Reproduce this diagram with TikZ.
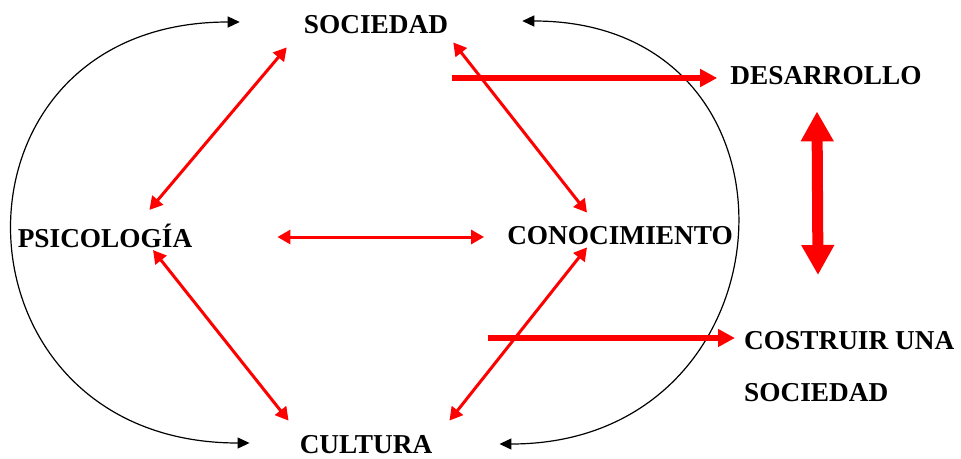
\documentclass[tikz,border=0pt]{standalone}
\usepackage{fontspec}
\setmainfont{Liberation Serif}
\usetikzlibrary{arrows.meta}

\tikzset{
    lbl/.style={inner sep=0pt, font=\bfseries\fontsize{27.3}{52}\selectfont},
    thinred/.style={red, line width=3pt, {Triangle[length=13pt,width=14pt]}-{Triangle[length=13pt,width=14pt]}},
    thickred/.style={red, line width=6pt, -{Triangle[length=17pt,width=17pt]}},
    bigred/.style={red, line width=11pt, {Triangle[length=30pt,width=31pt]}-{Triangle[length=30pt,width=31pt]}},
    blackcurve/.style={black, line width=1.2pt, {Triangle[length=12pt,width=11pt]}-{Triangle[length=12pt,width=11pt]}}
}

\begin{document}
\begin{tikzpicture}[x=1pt,y=-1pt]

    \useasboundingbox (0,0) rectangle (961,458);

    % labels
    \node[lbl] (soc) at (376,25) {SOCIEDAD};
    \node[lbl] (psi) at (105,236) {PSICOLOGÍA};
    \node[lbl] (con) at (620,236) {CONOCIMIENTO};
    \node[lbl] (cul) at (366,445) {CULTURA};
    \node[lbl] (des) at (826,76) {DESARROLLO};
    \node[lbl, anchor=north west, align=left] (cos) at (744,331) {COSTRUIR UNA\\SOCIEDAD};

    \coordinate (t1) at (452,78);
    \coordinate (t2) at (488,338);
    \coordinate (v1) at (818,275);

    % black loops
    \draw[blackcurve] ([xshift=-64,yshift=3]soc.west) to[out=180,in=180,looseness=1.87] ([xshift=-50,yshift=2]cul.west);
    \draw[blackcurve] ([xshift=74,yshift=4]soc.east) to[out=0,in=0,looseness=1.81] ([xshift=67,yshift=1]cul.east);

    % red links
    \draw[thinred] ([xshift=-17,yshift=-13]soc.south west) to ([xshift=-43,yshift=14]psi.north east);
    \draw[thinred] ([xshift=5,yshift=-8]soc.south east) to ([xshift=-33,yshift=14]con.north);
    \draw[thinred] ([xshift=85,yshift=-1]psi.east) to ([xshift=-23,yshift=-1]con.west);
    \draw[thinred] ([xshift=48,yshift=-2]psi.south) to ([xshift=-11,yshift=15]cul.north west);
    \draw[thinred] ([xshift=-33,yshift=-2]con.south) to ([xshift=17,yshift=15]cul.north east);

    \draw[thickred] (t1) to ([xshift=-13,yshift=-2]des.west);
    \draw[thickred] (t2) to ([xshift=-9,yshift=-7]cos.north west);
    \draw[bigred] ([xshift=-9,yshift=-26]des.south) to (v1);

\end{tikzpicture}
\end{document}
